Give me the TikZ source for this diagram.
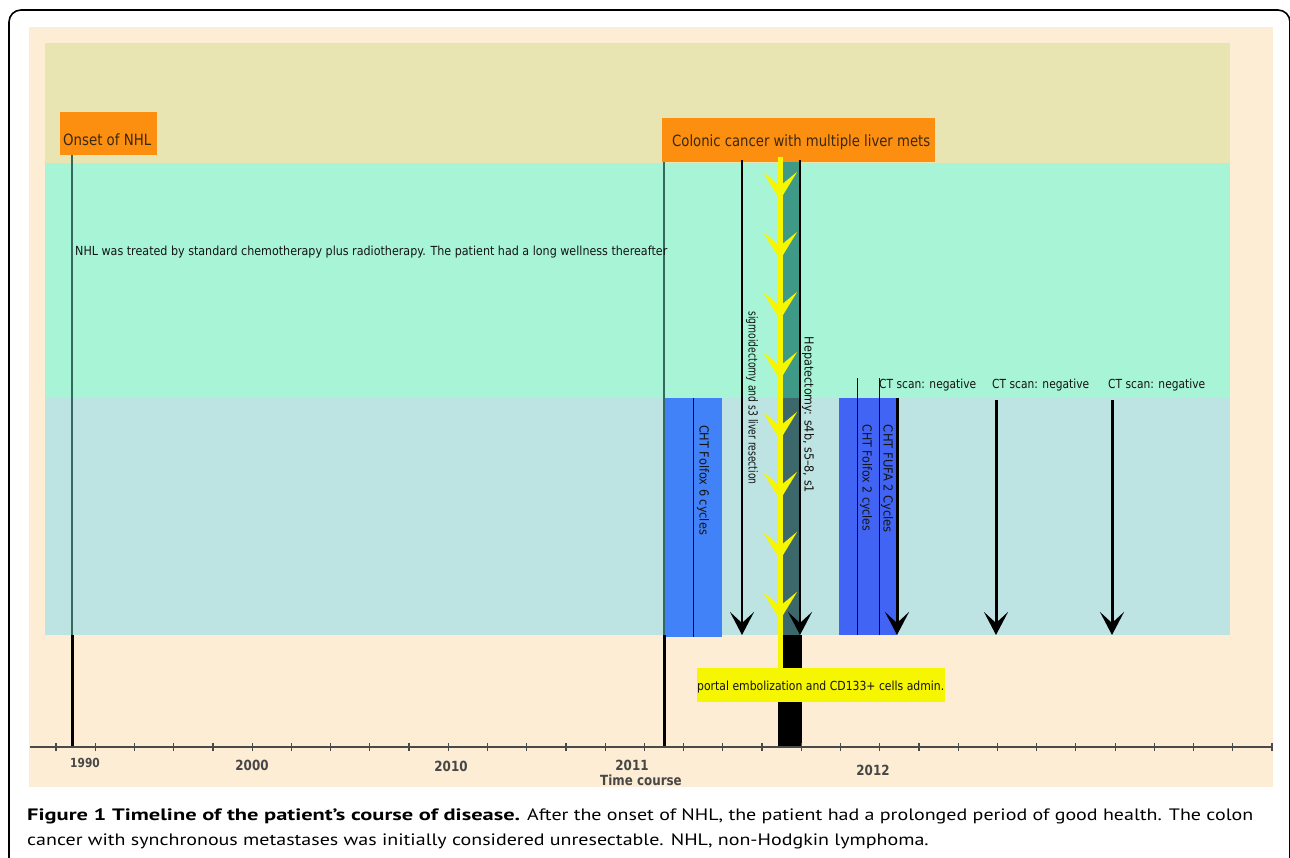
\documentclass[tikz,border=0pt]{standalone}
\usepackage{fontspec}
\usepackage{graphicx}
\setmainfont[FakeStretch=0.85]{DejaVu Sans}
\newfontfamily\capfont{PT Sans}
\usetikzlibrary{arrows.meta}
\definecolor{beige}{HTML}{FCEDD4}
\definecolor{khaki}{HTML}{E9E5B2}
\definecolor{mint}{HTML}{A7F5D6}
\definecolor{pblue}{HTML}{BDE3E3}
\definecolor{orng}{HTML}{FD8F10}
\definecolor{ylw}{HTML}{F6F600}
\definecolor{blueA}{HTML}{4282F8}
\definecolor{blueB}{HTML}{4264F5}
\definecolor{tealA}{HTML}{3E9A86}
\definecolor{tealB}{HTML}{3C686C}
\definecolor{vline}{HTML}{35695F}
\definecolor{boxtxt}{HTML}{3A2810}
\definecolor{captxt}{HTML}{231F20}
\definecolor{axisc}{HTML}{4A4A4A}
\newcommand\fitwd[2]{\resizebox{#1pt}{\height}{#2}}
\newsavebox{\capboxA}
\newsavebox{\capboxB}
\newsavebox{\capboxC}
\tikzset{
  lbl/.style={inner sep=0pt, text=black!92},
  boxlbl/.style={inner sep=0pt, text=boxtxt, font=\fontsize{15.5}{18}\selectfont},
  smalllbl/.style={lbl, font=\fontsize{12.5}{14}\selectfont},
  yearlbl/.style={inner sep=0pt, text=black!72, font=\fontsize{14}{16}\selectfont\bfseries},
  blkarrow/.style={draw=black, line width=2.4pt, -{Stealth[length=23pt,width=24pt,inset=11pt]}},
  ctarrow/.style={draw=black, line width=3pt, -{Stealth[length=23pt,width=24pt,inset=11pt]}},
  yarrow/.style={draw=ylw, fill=ylw, line width=5pt, -{Stealth[length=28pt,width=34pt,inset=14pt]}},
  thinline/.style={draw=vline, line width=1.5pt},
  blkline/.style={draw=black, line width=3pt},
  bline/.style={draw=black!60!blue, line width=0.7pt},
  tickst/.style={draw=axisc, line width=1.2pt},
}
\begin{document}
\sbox{\capboxA}{\capfont\fontsize{16.5}{20}\selectfont\textbf{Figure 1 Timeline of the patient’s course of disease.}}%
\sbox{\capboxB}{\capfont\fontsize{16.5}{20}\selectfont After the onset of NHL, the patient had a prolonged period of good health. The colon}%
\sbox{\capboxC}{\capfont\fontsize{16.5}{20}\selectfont cancer with synchronous metastases was initially considered unresectable. NHL, non-Hodgkin lymphoma.}%
\pgfmathsetmacro{\capfacA}{493/\wd\capboxA}%
\pgfmathsetmacro{\capfacB}{726/\wd\capboxB}%
\begin{tikzpicture}[x=1pt,y=-1pt]
\useasboundingbox (0,0) rectangle (1290,858);
\fill[white] (0,0) rectangle (1290,858);
% outer frame
\draw[line width=1.6pt, rounded corners=12pt] (9,858) -- (9,10) -- (1290,10) -- (1290,858);
% backgrounds
\fill[beige] (29,27) rectangle (1273,787);
\fill[khaki] (45,43) rectangle (1230,163);
\fill[mint] (45,163) rectangle (1230,398);
\fill[pblue] (45,398) rectangle (1230,635);
% blue therapy boxes
\fill[blueA] (664,398) rectangle (722,637);
\draw[bline] (693,398) -- (693,637);
\fill[blueB] (839,398) rectangle (897,635);
\draw[bline] (857,378) -- (857,635);
\draw[bline] (879,378) -- (879,635);
% teal strip and black bar
\fill[tealA] (783,162) rectangle (800,398);
\fill[tealB] (783,398) rectangle (800,635);
\fill[black] (778,635) rectangle (802,747);
% vertical event lines
\coordinate (v1a) at (72,155);
\coordinate (v1b) at (72,635);
\coordinate (v1c) at (72,747);
\draw[thinline] (v1a) -- (v1b);
\draw[blkline] (v1b) -- (v1c);
\coordinate (v2a) at (664,160);
\coordinate (v2b) at (664,635);
\coordinate (v2c) at (664,747);
\draw[thinline] (v2a) -- (v2b);
\draw[blkline] (v2b) -- (v2c);
% orange boxes
\node[fill=orng, minimum width=97pt, minimum height=43pt, inner sep=0pt, anchor=north west] (onsetbox) at (60,112) {};
\node[boxlbl, anchor=west] (onset) at (63,140) {\fitwd{88}{Onset of NHL}};
\node[fill=orng, minimum width=273pt, minimum height=44pt, inner sep=0pt, anchor=north west] (colbox) at (662,118) {};
\node[boxlbl, anchor=west] (colonic) at (672,142) {\fitwd{258}{Colonic cancer with multiple liver mets}};
% surgery arrows
\coordinate (sg1) at (742,160);
\coordinate (sg2) at (742,635);
\draw[blkarrow] (sg1) -- (sg2);
\coordinate (hp1) at (800,160);
\coordinate (hp2) at (800,635);
\draw[blkarrow] (hp1) -- (hp2);
% CT arrows
\coordinate (ct1a) at (897,398);
\coordinate (ct1b) at (897,635);
\coordinate (ct2a) at (996,400);
\coordinate (ct2b) at (996,635);
\coordinate (ct3a) at (1112,400);
\coordinate (ct3b) at (1112,635);
\draw[ctarrow] (ct1a) -- (ct1b);
\draw[ctarrow] (ct2a) -- (ct2b);
\draw[ctarrow] (ct3a) -- (ct3b);
% yellow line with chevrons
\coordinate (y1) at (780,157);
\coordinate (y2) at (780,668);
\draw[draw=ylw, line width=5pt] (y1) -- (y2);
\foreach \t in {200,260,...,620} {
  \draw[yarrow] (780,\t-32) -- (780,\t);
}
% axis
\coordinate (ax1) at (30,747);
\coordinate (ax2) at (1273,747);
\draw[draw=axisc, line width=2pt] (ax1) -- (ax2);
\foreach \i in {0,...,31} {
  \draw[tickst] ({56+39.226*\i},743) -- ({56+39.226*\i},751);
}
% portal label box
\node[fill=ylw, minimum width=248pt, minimum height=34pt, inner sep=0pt, anchor=north west] (portalbox) at (697,668) {};
\node[smalllbl, anchor=west] (portal) at (697,687) {\fitwd{247}{portal embolization and CD133+ cells admin.}};
% labels
\node[smalllbl, anchor=west] (nhltxt) at (75,252) {\fitwd{592}{NHL was treated by standard chemotherapy plus radiotherapy. The patient had a long wellness thereafter}};
\node[smalllbl, rotate=-90] (sigtxt) at (752,398) {\fitwd{173}{sigmoidectomy and s3 liver resection}};
\node[smalllbl, rotate=-90] (heptxt) at (808,415) {\fitwd{156}{Hepatectomy: s4b, s5–8, s1}};
\node[smalllbl, rotate=-90] (cht1) at (703,480) {\fitwd{110}{CHT Folfox 6 cycles}};
\node[smalllbl, rotate=-90] (cht2) at (866,478) {\fitwd{107}{CHT Folfox 2 cycles}};
\node[smalllbl, rotate=-90] (cht3) at (887,479) {\fitwd{108}{CHT FUFA 2 Cycles}};
\node[smalllbl, anchor=west] (ctl1) at (879,385) {\fitwd{97}{CT scan: negative}};
\node[smalllbl, anchor=west] (ctl2) at (992,385) {\fitwd{97}{CT scan: negative}};
\node[smalllbl, anchor=west] (ctl3) at (1108,385) {\fitwd{97}{CT scan: negative}};
% years
\node[yearlbl, font=\fontsize{12.5}{15}\selectfont\bfseries] (y1990) at (85,763) {1990};
\node[yearlbl] (y2000) at (252,765) {2000};
\node[yearlbl] (y2010) at (451,766) {2010};
\node[yearlbl] (y2011) at (632,765) {2011};
\node[yearlbl] (tcourse) at (641,780) {Time course};
\node[yearlbl] (y2012) at (873,770) {2012};
% caption
\node[inner sep=0pt, anchor=base west, text=captxt] (cap1a) at (27,820) {\scalebox{\capfacA}[1]{\usebox{\capboxA}}};
\node[inner sep=0pt, anchor=base west, text=captxt] (cap1b) at (527,820) {\scalebox{\capfacB}[1]{\usebox{\capboxB}}};
\node[inner sep=0pt, anchor=base west, text=captxt] (cap2) at (27,845) {\scalebox{\capfacB}[1]{\usebox{\capboxC}}};
\end{tikzpicture}
\end{document}
